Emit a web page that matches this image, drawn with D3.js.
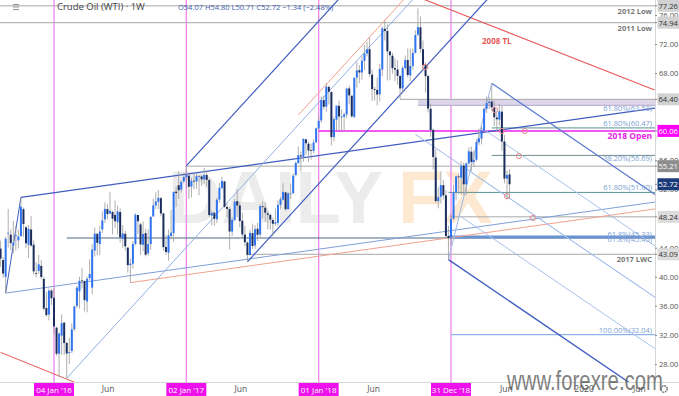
<!DOCTYPE html>
<html>
<head>
<meta charset="utf-8">
<script src="https://cdn.jsdelivr.net/npm/d3@7"></script>
<style>
  body { margin: 0; background: #fff; }
  svg { display: block; font-family: "Open Sans", Roboto, sans-serif; }
</style>
</head>
<body>
<svg width="679" height="396"></svg>
<script>
// weekly candles, first bar is the week of 2015-08-10
const firstWeek = "2015-08-10";
const candles = [
  [43.87,44.96,41.35,42.50],[42.30,42.70,39.86,40.45],[40.00,45.50,37.75,45.22],[46.00,49.32,44.00,46.05],
  [45.80,46.50,43.70,44.63],[44.30,47.70,43.20,44.68],[45.70,47.00,43.60,45.70],[45.00,46.50,43.90,45.54],
  [45.60,50.92,45.50,49.63],[49.30,49.50,45.50,47.26],[46.80,47.00,43.90,44.60],[44.40,47.10,42.60,46.59],
  [46.50,48.36,44.10,44.29],[44.40,45.00,40.30,40.74],[40.50,42.00,39.90,40.39],[40.80,43.00,40.40,41.71],
  [41.50,42.30,39.65,39.97],[39.70,40.00,35.35,35.62],[35.70,37.90,34.50,34.73],[34.80,38.40,33.98,38.10],
  [38.10,38.30,36.10,37.04],
  // 2016
  [37.10,38.39,32.10,33.16],[33.00,33.10,29.13,29.42],[29.40,32.35,26.19,32.19],[31.90,34.82,29.25,33.62],
  [33.70,33.70,29.25,30.89],[30.90,31.00,26.05,29.44],[29.50,31.60,28.00,29.64],[29.80,33.60,29.50,32.78],
  [32.80,36.00,32.50,35.92],[36.00,38.75,35.70,38.50],[38.00,40.00,35.60,39.44],[39.50,41.20,38.40,39.46],
  [39.40,39.50,35.24,36.79],[36.60,40.00,35.10,39.72],[39.80,42.40,39.50,40.36],[38.50,44.50,37.60,43.73],
  [43.60,46.78,42.80,45.92],[45.90,46.00,43.00,44.66],[44.50,47.00,43.00,46.21],[46.50,49.00,46.00,47.75],
  [47.90,50.21,47.40,49.33],[49.30,50.00,47.90,48.62],[48.70,51.67,48.60,49.07],[48.90,49.10,45.83,47.98],
  [48.50,50.50,46.69,47.64],[47.50,49.80,45.83,48.99],[48.90,49.40,44.70,45.41],[45.20,47.10,44.00,45.95],
  [45.90,46.30,43.60,44.19],[44.00,44.10,40.57,41.60],[41.60,42.50,39.19,41.80],[41.80,44.90,41.10,44.49],
  [44.50,48.75,44.30,48.52],[48.50,48.50,45.90,47.64],[47.20,47.40,43.00,44.44],[44.40,47.60,43.50,45.88],
  [46.00,46.60,42.80,43.03],[43.20,46.50,42.90,44.48],[44.50,48.30,43.70,48.24],[48.30,50.74,48.20,49.81],
  [49.80,51.60,49.30,50.35],[50.30,51.93,49.30,50.85],[50.80,51.00,48.30,48.70],[48.70,48.80,43.57,44.07],
  [44.10,45.70,43.00,43.41],[43.30,46.50,42.20,45.69],[45.60,49.20,45.20,46.06],[46.00,51.70,44.80,51.68],
  [51.70,52.40,49.60,51.50],[52.60,54.51,50.71,51.90],[52.00,53.30,51.60,53.02],[53.10,54.30,52.90,53.72],
  // 2017
  [53.70,55.24,52.11,53.99],[53.90,54.00,50.71,52.37],[52.40,53.60,50.91,53.22],[53.20,54.20,52.00,53.17],
  [53.10,54.20,52.10,53.83],[53.80,54.00,51.22,53.86],[53.80,54.00,52.50,53.40],[53.40,54.94,52.80,54.00],
  [54.00,54.60,52.40,53.33],[53.30,53.50,48.25,48.49],[48.40,49.10,47.09,48.78],[48.80,49.00,47.01,47.97],
  [47.90,50.85,47.40,50.60],[50.60,52.90,50.20,52.24],[52.20,53.76,52.00,53.18],[53.10,53.20,49.50,49.62],
  [49.60,50.10,48.20,49.33],[49.30,49.60,43.76,46.22],[46.20,48.20,45.60,47.84],[47.80,50.70,47.70,50.33],
  [50.40,52.00,48.20,49.80],[49.80,50.30,46.80,47.66],[47.70,48.80,45.20,45.83],[45.80,47.00,44.20,44.74],
  [44.70,44.90,42.05,43.01],[43.00,46.50,42.90,46.04],[46.00,47.30,43.80,44.23],[44.30,47.10,43.80,46.54],
  [46.60,47.40,44.90,45.77],[45.80,50.00,45.40,49.71],[49.70,50.40,48.00,49.58],[49.50,50.20,47.60,48.82],
  [48.70,49.00,46.50,48.51],[48.50,48.70,46.50,47.87],[47.80,48.10,45.58,47.29],[47.30,49.40,47.00,47.48],
  [47.40,50.50,47.00,49.89],[49.90,51.00,49.30,50.66],[50.60,52.86,50.50,51.67],[51.60,51.70,49.10,49.29],
  [49.30,51.70,49.20,51.45],[51.40,52.80,50.70,51.47],[51.50,54.20,51.40,53.90],[54.00,55.85,53.80,55.64],
  [55.60,57.92,55.60,56.74],[56.70,57.20,54.50,56.55],[56.50,59.05,55.80,58.95],[58.90,59.00,56.75,58.36],
  [58.30,58.60,55.82,57.36],[57.40,58.30,56.10,57.30],[57.30,58.90,57.00,58.47],[58.50,60.51,58.40,60.42],
  // 2018
  [60.40,62.21,60.10,61.44],[61.50,64.77,61.20,64.30],[64.30,64.89,63.00,63.37],[63.40,66.66,62.70,66.14],
  [66.10,66.30,63.70,65.45],[65.40,65.50,58.07,59.20],[59.20,62.00,58.60,61.68],[61.60,63.50,60.10,63.55],
  [63.50,64.24,60.15,62.04],[62.00,63.00,60.00,62.04],[62.00,62.60,59.95,62.34],[62.30,66.00,61.80,65.88],
  [65.90,66.30,63.70,64.94],[64.90,64.90,61.85,62.06],[62.00,67.40,61.80,67.39],[67.40,69.56,66.00,68.38],
  [68.40,69.10,66.61,68.10],[68.10,70.40,67.10,69.72],[69.70,71.89,68.40,70.70],[70.70,72.30,70.30,71.28],
  [71.30,72.90,67.50,67.88],[67.80,68.50,64.20,65.81],[65.80,66.10,64.22,65.74],[65.70,67.40,63.59,65.06],
  [65.10,69.30,64.10,68.58],[68.50,74.46,67.60,74.15],[74.10,75.27,72.50,73.80],[73.80,74.70,67.00,71.01],
  [71.00,71.00,67.03,70.46],[70.40,70.80,67.90,68.69],[68.70,70.00,66.90,68.49],[68.50,69.80,66.40,67.63],
  [67.60,67.80,64.43,65.91],[65.90,69.00,65.20,68.72],[68.70,70.40,68.50,69.80],[69.80,71.40,67.40,67.75],
  [67.70,71.40,66.90,68.99],[69.00,71.40,68.50,70.78],[70.80,73.90,70.70,73.25],[73.30,76.90,73.10,74.34],
  [74.30,75.80,70.80,71.34],[71.30,72.50,68.40,69.12],[69.10,69.50,65.33,67.59],[67.60,67.80,62.60,63.14],
  [63.10,63.80,59.26,60.19],[60.20,60.40,54.75,56.46],[56.40,57.50,50.15,50.42],[50.40,52.30,49.41,50.93],
  [51.00,54.50,50.08,52.61],[52.60,53.30,50.60,51.20],[51.20,51.90,45.30,45.59],[45.60,47.00,42.36,45.33],
  // 2019
  [45.40,48.55,44.35,47.96],[48.00,52.60,47.80,51.59],[51.60,53.90,50.50,53.80],[53.80,54.20,51.30,53.69],
  [53.60,55.90,51.30,55.26],[55.30,55.70,51.23,52.72],[52.70,55.70,51.23,55.59],[55.60,57.81,55.40,57.26],
  [57.20,57.90,54.52,55.80],[55.80,57.40,55.10,56.07],[56.10,58.95,55.90,58.52],[58.50,60.39,58.10,59.04],
  [59.00,60.73,58.20,60.14],[60.10,63.30,60.00,63.08],[63.10,64.79,62.50,63.89],[63.90,64.70,63.10,64.07],
  [64.10,66.60,62.80,63.30],[63.30,64.20,60.73,61.94],[61.90,62.60,60.05,61.66],[61.60,63.80,60.80,62.76],
  [62.70,63.50,57.33,58.63],[58.60,59.50,52.87,53.50],[53.50,54.60,50.60,53.99],[54.07,54.80,50.71,52.72]
];

// horizontal levels: price, start date (null = full width), name
const levelPrices = [77.26, 74.94, 64.40, 60.06, 55.21, 48.24, 43.09];
const levelStarts = [null, null, "2018-08-13", "2018-01-01", "2017-01-02", "2018-12-31", "2017-06-19"];
const levelNames  = ["2012 Low", "2011 Low", "", "2018 Open", "", "", "2017 LWC"];

// fibonacci retracements
const fibPrices = [63.58, 60.47, 56.69, 51.60, 45.33, 45.45, 32.04];
const fibStarts = ["2018-10-01", "2019-04-22", "2019-04-22", "2018-12-24", "2016-02-08", "2018-12-24", "2018-12-31"];
const fibNames  = ["61.80%(63.58)", "61.80%(60.47)", "38.20%(56.69)", "61.80%(51.60)", "61.8%(45.33)", "61.8%(45.45)", "100.00%(32.04)"];

// trend lines: [date1, price1, date2, price2]
const channelTop = ["2015-10-05", 50.92, "2019-10-28", 61.35];
const channelSide = ["2015-10-05", 50.92, "2015-08-24", 37.75];
const channelLow = ["2015-08-24", 37.75, "2019-10-28", 48.45];
const salmonLow = ["2016-08-01", 39.19, "2019-10-28", 47.50];
const tl2008 = ["2019-10-28", 70.77, "2020-07-13", 65.68];
const redLow = ["2015-08-10", 29.60, "2016-02-29", 25.50];

// pitchforks: pivots [date, price]
const fork2016 = [["2016-02-08", 26.05], ["2017-01-02", 55.24], ["2017-06-19", 42.05]];
const fork2016Offset = ["2017-11-06", 62.24];
const fork2019 = [["2018-09-24", 59.60], ["2019-04-22", 66.60], ["2018-12-24", 42.36]];
const fork2019Levels = [0.25, 0.5, 0.75];

const markers = [["2018-10-21", 68.85], ["2019-05-01", 62.93], ["2019-05-20", 60.04], ["2019-07-22", 60.04],
  ["2019-07-06", 56.60], ["2019-06-03", 51.10], ["2019-08-13", 48.08]];

const yearStarts = ["2016-01-04", "2017-01-02", "2018-01-01", "2018-12-31"];
const yearLabels = ["04 Jan '16", "02 Jan '17", "01 Jan '18", "31 Dec '18"];
const otherTicks = ["2016-06-01", "2017-06-01", "2018-06-01", "2019-06-01", "2020-01-01", "2020-06-01"];
const otherLabels = ["Jun", "Jun", "Jun", "Jun", "2020", "Jun"];
const priceTicks = [76, 72, 68, 56, 52, 44, 40, 36, 32, 28];
const tagPrices = [77.26, 74.94, 64.40, 60.06, 55.21, 52.72, 48.24, 43.09];

const parse = d3.timeParse("%Y-%m-%d");
const plotW = 655, plotH = 382;
const x = d3.scaleTime().domain([parse("2016-01-04"), parse("2018-12-31")]).range([54, 451]);
const y = d3.scaleLinear().domain([76, 28]).range([15, 364]);
const pt = (d, p) => [x(parse(d)), y(p)];

const svg = d3.select("svg");
svg.append("defs").append("clipPath").attr("id", "plot")
  .append("rect").attr("width", plotW).attr("height", plotH);
const g = svg.append("g").attr("clip-path", "url(#plot)");

// watermark
g.append("text").attr("x", 168).attr("y", 223).attr("font-size", 74).attr("font-weight", 700)
  .attr("font-family", "Liberation Sans, Arial, sans-serif").attr("fill", "#ececec").text("DAILY");
g.append("text").attr("x", 398).attr("y", 223).attr("font-size", 74).attr("font-weight", 700)
  .attr("font-family", "Liberation Sans, Arial, sans-serif").attr("fill", "#fde8d2").text("FX");

// year verticals
yearStarts.forEach(d => {
  g.append("line").attr("x1", x(parse(d))).attr("x2", x(parse(d))).attr("y1", 0).attr("y2", plotH)
    .attr("stroke", "#ef86ef").attr("stroke-width", 1.3);
});

function line(a, b, color, w) {
  g.append("line").attr("x1", a[0]).attr("y1", a[1]).attr("x2", b[0]).attr("y2", b[1])
    .attr("stroke", color).attr("stroke-width", w || 1);
}
function ray(a, b, color, w, k) {
  k = k || 20;
  line(a, [a[0] + (b[0] - a[0]) * k, a[1] + (b[1] - a[1]) * k], color, w);
}
function seg(def) { return [pt(def[0], def[1]), pt(def[2], def[3])]; }

// lavender band between 64.40 and 63.58
g.append("rect").attr("x", x(parse("2018-10-01"))).attr("y", y(64.40))
  .attr("width", plotW).attr("height", y(63.58) - y(64.40)).attr("fill", "#ddd6ea");

// horizontal levels
levelPrices.forEach((p, i) => {
  const x0 = levelStarts[i] ? x(parse(levelStarts[i])) : 0;
  const isOpen = p === 60.06;
  line([x0, y(p)], [plotW, y(p)], isOpen ? "#ee22ee" : "#a8a8a8", isOpen ? 1.5 : 1);
});
const fibColors = ["#b4a8cc", "#5b9494", "#6f8f8f", "#5b9494", "#4d6a86", "#6a93d2", "#8fb3e8"];
const fibWidths = [1, 1, 1, 1, 1.2, 3, 1.2];
fibPrices.forEach((p, i) => {
  line([x(parse(fibStarts[i])), y(p)], [plotW, y(p)], fibColors[i], fibWidths[i]);
});

// trend lines
let s = seg(channelTop); ray(s[0], s[1], "#3f5cc0", 1.2);
s = seg(channelSide); line(s[0], s[1], "#3f5cc0", 1);
s = seg(channelLow); ray(s[0], s[1], "#7f9fd8", 1);
s = seg(salmonLow); ray(s[0], s[1], "#f2a08c", 1);
s = seg(tl2008); ray(s[1], s[0], "#e8585a", 1.1);
s = seg(redLow); ray(s[0], s[1], "#e8585a", 1);

// 2016 pitchfork
(function () {
  const A = pt(...fork2016[0]), B = pt(...fork2016[1]), C = pt(...fork2016[2]);
  const M = [(B[0] + C[0]) / 2, (B[1] + C[1]) / 2];
  const dx = M[0] - A[0], dy = M[1] - A[1];
  ray(A, M, "#90aee2", 1, 10);
  ray(B, [B[0] + dx, B[1] + dy], "#3f5cc0", 1.2, 10);
  ray(C, [C[0] + dx, C[1] + dy], "#3f5cc0", 1.2, 10);
  const O = pt(...fork2016Offset);
  ray(O, [O[0] + dx, O[1] + dy], "#f2a08c", 1, 10);
})();

// 2019 pitchfork
(function () {
  const A = pt(...fork2019[0]), B = pt(...fork2019[1]), C = pt(...fork2019[2]);
  const M = [(B[0] + C[0]) / 2, (B[1] + C[1]) / 2];
  const dx = M[0] - A[0], dy = M[1] - A[1];
  line(B, C, "#9bb8e8", 1);
  ray(A, M, "#9bb8e8", 1, 10);
  ray(B, [B[0] + dx, B[1] + dy], "#5b7bd0", 1.2, 10);
  ray(C, [C[0] + dx, C[1] + dy], "#3f5cc0", 1.3, 10);
  fork2019Levels.forEach(f => {
    const P = [B[0] + (C[0] - B[0]) * f, B[1] + (C[1] - B[1]) * f];
    ray(P, [P[0] + dx, P[1] + dy], "#a8c2ec", 1, 10);
  });
})();

// candles
const start = parse(firstWeek);
const bars = candles.map((c, i) => ({ date: d3.timeDay.offset(start, i * 7), o: c[0], h: c[1], l: c[2], c: c[3] }));
const cg = g.append("g");
cg.selectAll("line.wick").data(bars).enter().append("line")
  .attr("x1", d => x(d.date)).attr("x2", d => x(d.date))
  .attr("y1", d => y(d.h)).attr("y2", d => y(d.l))
  .attr("stroke", "#9a9a9a").attr("stroke-width", 0.8);
cg.selectAll("rect.body").data(bars).enter().append("rect")
  .attr("x", d => x(d.date) - 1).attr("width", 2)
  .attr("y", d => y(Math.max(d.o, d.c)))
  .attr("height", d => Math.max(0.8, Math.abs(y(d.o) - y(d.c))))
  .attr("fill", d => d.c >= d.o ? "#2f74f0" : "#1b2d5c");

// markers
g.selectAll("circle.mk").data(markers).enter().append("circle")
  .attr("cx", d => x(parse(d[0]))).attr("cy", d => y(d[1])).attr("r", 2.6)
  .attr("fill", "none").attr("stroke", "#e58a8a").attr("stroke-width", 1);

// level labels
const lab = svg.append("g").attr("text-anchor", "end").attr("font-size", 7.5);
levelPrices.forEach((p, i) => {
  if (!levelNames[i]) return;
  const isOpen = p === 60.06;
  lab.append("text").attr("x", 652).attr("y", y(p) + 8).attr("font-weight", 700)
    .attr("font-size", isOpen ? 8.5 : 7.5)
    .attr("fill", isOpen ? "#e61ee6" : "#777").text(levelNames[i]);
});
const fibDy = [6, -2, 6, -2, -1, 5, -2];
fibPrices.forEach((p, i) => {
  lab.append("text").attr("x", 652).attr("y", y(p) + fibDy[i]).attr("fill", "#7d9fd6").text(fibNames[i]);
});
svg.append("text").attr("x", 482).attr("y", 44).attr("font-size", 8).attr("font-weight", 700)
  .attr("fill", "#e8585a").text("2008 TL");

// right axis
svg.append("rect").attr("x", plotW).attr("y", 0).attr("width", 679 - plotW).attr("height", 396).attr("fill", "#fff");
svg.append("line").attr("x1", plotW + 0.5).attr("x2", plotW + 0.5).attr("y1", 0).attr("y2", 396).attr("stroke", "#d6d6d6");
const ax = svg.append("g").attr("transform", `translate(${plotW},0)`)
  .call(d3.axisRight(y).tickValues(priceTicks).tickSize(2).tickPadding(2).tickFormat(d3.format(".2f")));
ax.select(".domain").remove();
ax.selectAll("line").attr("stroke", "#888");
ax.selectAll("text").attr("font-size", 7.6).attr("fill", "#555").attr("font-family", "Open Sans, sans-serif");

const tagBg = ["#d2d2d2", "#d2d2d2", "#d2d2d2", "#ff00ff", "#8e8e8e", "#1b3a78", "#dcdcdc", "#dcdcdc"];
const tagFg = ["#333", "#333", "#333", "#fff", "#fff", "#fff", "#333", "#333"];
tagPrices.forEach((p, i) => {
  const t = svg.append("g").attr("transform", `translate(${plotW},${y(p)})`);
  t.append("line").attr("x1", 0).attr("x2", 2).attr("stroke", "#888");
  t.append("rect").attr("x", 2.5).attr("y", -6).attr("width", 22).attr("height", 12).attr("fill", tagBg[i]);
  t.append("text").attr("x", 3.5).attr("y", 3).attr("font-size", 7.6).attr("fill", tagFg[i]).text(p.toFixed(2));
});

// bottom axis
svg.append("rect").attr("x", 0).attr("y", plotH).attr("width", 679).attr("height", 396 - plotH).attr("fill", "#fff");
svg.append("line").attr("x1", 0).attr("x2", 679).attr("y1", plotH + 0.5).attr("y2", plotH + 0.5).attr("stroke", "#d6d6d6");
otherTicks.forEach((d, i) => {
  svg.append("text").attr("x", x(parse(d))).attr("y", 392).attr("text-anchor", "middle")
    .attr("font-size", 8.5).attr("fill", "#555").text(otherLabels[i]);
});
yearStarts.forEach((d, i) => {
  const cx = x(parse(d));
  svg.append("line").attr("x1", cx).attr("x2", cx).attr("y1", plotH).attr("y2", 385).attr("stroke", "#ef86ef");
  svg.append("rect").attr("x", cx - 20).attr("y", 383).attr("width", 40).attr("height", 13).attr("fill", "#ee11ee");
  svg.append("text").attr("x", cx).attr("y", 392.5).attr("text-anchor", "middle")
    .attr("font-size", 8).attr("fill", "#fff").text(yearLabels[i]);
});

// gear icon
svg.append("circle").attr("cx", 664).attr("cy", 389).attr("r", 3.2).attr("fill", "none")
  .attr("stroke", "#666").attr("stroke-width", 1.4).attr("stroke-dasharray", "1.6 0.9");

// header
const hd = svg.append("g");
[4.5, 7, 9.5].forEach(v => hd.append("line").attr("x1", 13).attr("x2", 19).attr("y1", v).attr("y2", v)
  .attr("stroke", "#999").attr("stroke-width", 1));
hd.append("text").attr("x", 57).attr("y", 10).attr("font-size", 9.5).attr("fill", "#444")
  .text("Crude Oil (WTI) \u00b7 1W");
hd.append("text").attr("x", 178).attr("y", 10).attr("font-size", 7.5).attr("fill", "#3d5fae")
  .text("O54.07  H54.80  L50.71  C52.72  \u22121.34 (\u22122.48%)");

// site watermark
svg.append("text").attr("x", 507).attr("y", 390).attr("font-size", 27)
  .attr("textLength", 156).attr("lengthAdjust", "spacingAndGlyphs")
  .attr("font-family", "Liberation Sans, Arial, sans-serif")
  .attr("fill", "#555").attr("fill-opacity", 0.75).text("www.forexre.com");
</script>
</body>
</html>
